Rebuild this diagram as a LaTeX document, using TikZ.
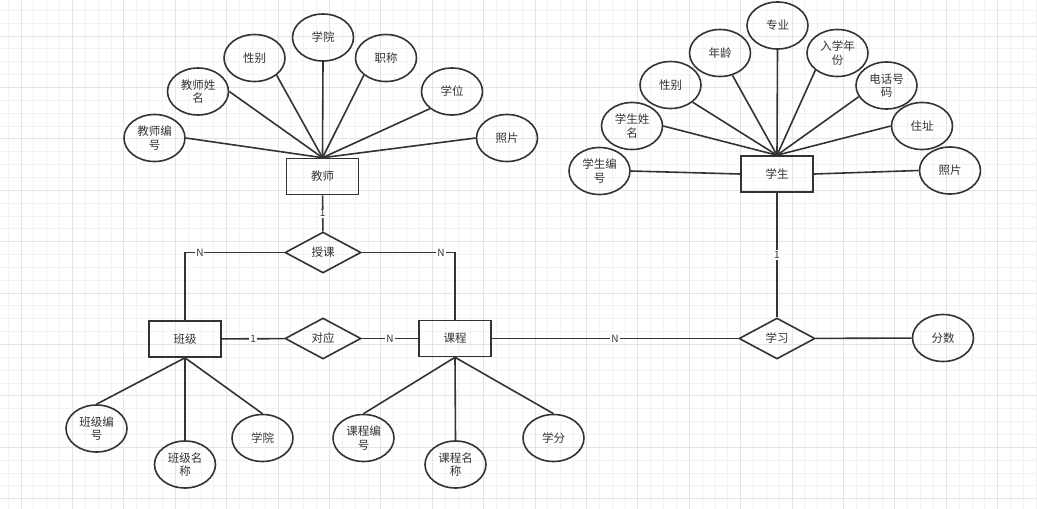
\documentclass[tikz,border=0pt]{standalone}
\usepackage{fontspec}
\setmainfont{Noto Sans CJK SC}
\usetikzlibrary{shapes.geometric}
\definecolor{ink}{HTML}{333333}
\definecolor{gridminor}{HTML}{F2F2F2}
\definecolor{gridmajor}{HTML}{E4E4E4}

\begin{document}
\begin{tikzpicture}[x=1pt,y=-1pt,
  every node/.style={font=\fontsize{11.5}{13.5}\selectfont, text=ink},
  entity/.style={draw=ink, line width=1.6pt, minimum width=72pt, minimum height=36pt, inner sep=0pt},
  attr/.style={draw=ink, line width=1.6pt, ellipse, minimum width=61pt, minimum height=47pt, inner sep=0pt, align=center},
  rel/.style={draw=ink, line width=1.6pt, diamond, minimum width=76pt, minimum height=41pt, inner sep=0pt},
  link/.style={draw=ink, line width=1.6pt},
  card/.style={fill=white, inner sep=1pt, font=\fontsize{10}{11}\selectfont}]
\useasboundingbox (0,0) rectangle (1037,509);

\foreach \i in {0,...,80} \draw[gridminor, line width=0.8pt] ({8.15+12.85*\i},0) -- ({8.15+12.85*\i},509);
\foreach \i in {0,...,38} \draw[gridminor, line width=0.8pt] (0,{10.3+12.85*\i}) -- (1037,{10.3+12.85*\i});
\foreach \i in {0,...,19} \draw[gridmajor, line width=0.8pt] ({21+51.4*\i},0) -- ({21+51.4*\i},509);
\foreach \i in {0,...,9} \draw[gridmajor, line width=0.8pt] (0,{36+51.4*\i}) -- (1037,{36+51.4*\i});

\node[entity] (teacher) at (322.5,176.5) {教师};
\node[attr] (t_bh) at (154.5,138) {教师编\\号};
\node[attr] (t_xm) at (198,91.5) {教师姓\\名};
\node[attr] (t_xb) at (254.5,58) {性别};
\node[attr] (t_xy) at (323,37.5) {学院};
\node[attr] (t_zc) at (386,58) {职称};
\node[attr] (t_xw) at (452,91.5) {学位};
\node[attr] (t_zp) at (507,138) {照片};

\draw[link] (t_bh.east) -- (teacher.north);
\draw[link] (t_xm.east) -- (teacher.north);
\draw[link] (t_xb.south east) -- (teacher.north);
\draw[link] (t_xy.south) -- (teacher.north);
\draw[link] (t_zc.south west) -- (teacher.north);
\draw[link] (t_xw.south west) -- (teacher.north);
\draw[link] (t_zp.west) -- (teacher.north);

\node[entity] (student) at (777,174) {学生};
\node[attr] (s_bh) at (599.5,171) {学生编\\号};
\node[attr] (s_xm) at (632,126) {学生姓\\名};
\node[attr] (s_xb) at (670.5,85) {性别};
\node[attr] (s_nl) at (720,53) {年龄};
\node[attr] (s_zy) at (777.5,25.5) {专业};
\node[attr] (s_rx) at (837.5,53) {入学年\\份};
\node[attr] (s_dh) at (886.5,85.5) {电话号\\码};
\node[attr] (s_zz) at (922,126) {住址};
\node[attr] (s_zp) at (950,170.5) {照片};

\draw[link] (s_bh.east) -- (student.west);
\draw[link] (s_xm.east) -- (student.north);
\draw[link] (s_xb.south east) -- (student.north);
\draw[link] (s_nl) -- (student.north);
\draw[link] (s_zy.south) -- (student.north);
\draw[link] (s_rx.south west) -- (student.north);
\draw[link] (s_dh.202) -- (student.north);
\draw[link] (s_zz.west) -- (student.north);
\draw[link] (student.east) -- (s_zp.west);

\node[rel] (teach) at (323,252.5) {授课};
\node[entity] (class) at (185,339) {班级};
\node[rel] (match) at (323,338.5) {对应};
\node[entity] (course) at (455,338.5) {课程};
\node[rel] (study) at (777,338.5) {学习};
\node[attr] (score) at (943,338) {分数};

\draw[link] (teacher) -- node[card] {1} (teach);
\draw[link] (teach.west) -| node[card, pos=0.425] {N} (class.north);
\draw[link] (teach.east) -| node[card, pos=0.425] {N} (course.north);
\draw[link] (class) -- node[card] {1} (match);
\draw[link] (match) -- node[card] {N} (course);
\draw[link] (course) -- node[card] {N} (study);
\draw[link] (student) -- node[card] {1} (study);
\draw[link] (study) -- (score);

\node[attr] (c_bh) at (96.5,428.5) {班级编\\号};
\node[attr] (c_mc) at (185,464.5) {班级名\\称};
\node[attr] (c_xy) at (262.5,438) {学院};
\node[attr] (k_bh) at (363.5,438) {课程编\\号};
\node[attr] (k_mc) at (455.5,464.5) {课程名\\称};
\node[attr] (k_xf) at (553.5,438) {学分};

\draw[link] (class.south) -- (c_bh.north);
\draw[link] (class.south) -- (c_mc.north);
\draw[link] (class.south) -- (c_xy.north);
\draw[link] (course.south) -- (k_bh.north);
\draw[link] (course.south) -- (k_mc.north);
\draw[link] (course.south) -- (k_xf.north);
\end{tikzpicture}
\end{document}
